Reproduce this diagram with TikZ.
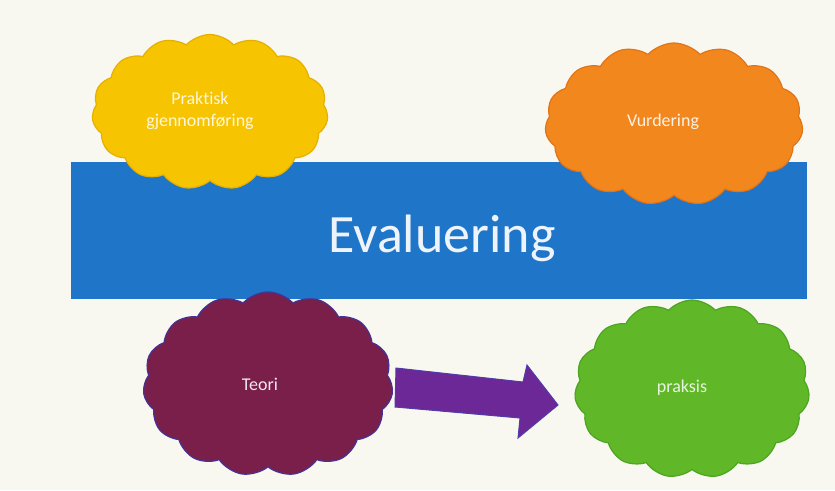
\documentclass[tikz,border=0pt]{standalone}
\usepackage{fontspec}
\setmainfont{Carlito}[Ligatures={NoCommon}]
\usetikzlibrary{shapes.symbols}
\definecolor{bg}{RGB}{248,248,241}
\definecolor{barblue}{RGB}{31,117,200}
\definecolor{cyellow}{RGB}{246,196,0}
\definecolor{cyellowb}{RGB}{230,176,0}
\definecolor{corange}{RGB}{242,135,30}
\definecolor{corangeb}{RGB}{226,116,22}
\definecolor{cpurple}{RGB}{122,30,74}
\definecolor{cpurpleb}{RGB}{70,50,150}
\definecolor{cgreen}{RGB}{96,184,40}
\definecolor{cgreenb}{RGB}{76,164,32}
\definecolor{carrow}{RGB}{108,40,150}
\definecolor{carrowb}{RGB}{80,60,170}
\begin{document}
\begin{tikzpicture}[x=1pt,y=-1pt,
  puff/.style={cloud, cloud puffs=15, cloud puff arc=95, inner sep=0pt, line width=1.2pt},
  ctext/.style={font=\fontsize{18}{22}\selectfont, align=center, inner sep=0pt}]
\useasboundingbox (0,0) rectangle (835,490);
\fill[bg] (0,0) rectangle (835,490);
% bar
\fill[barblue] (71,162) rectangle (807,299);
\node[font=\fontsize{54}{60}\selectfont, text=white!92!barblue, anchor=base, inner sep=0pt] (eval) at (442,252) {Evaluering};
% clouds
\node[puff, fill=cyellow, draw=cyellowb, minimum width=236pt, minimum height=155pt] (c1) at (210,112) {};
\node[ctext, text=white!85!cyellow] (t1) at (200,111) {Praktisk\\gjennomføring};
\node[puff, fill=corange, draw=corangeb, minimum width=258pt, minimum height=162pt] (c2) at (674,124) {};
\node[ctext, text=white!88!corange] (t2) at (663,122) {Vurdering};
\node[puff, fill=cpurple, draw=cpurpleb, minimum width=250pt, minimum height=184pt] (c3) at (268,384) {};
\node[ctext, text=white!90!cpurple] (t3) at (260,384) {Teori};
\node[puff, fill=cgreen, draw=cgreenb, minimum width=235pt, minimum height=178pt] (c4) at (692,389) {};
\node[ctext, text=white!85!cgreen] (t4) at (682,388) {praksis};
% arrow
\coordinate (a1) at (396,368);
\coordinate (a2) at (523,382);
\coordinate (a3) at (527,365);
\coordinate (a4) at (558,405);
\coordinate (a5) at (518,438);
\coordinate (a6) at (520,418);
\coordinate (a7) at (395,407);
\filldraw[fill=carrow, draw=carrowb, line width=1pt, line join=miter] (a1) -- (a2) -- (a3) -- (a4) -- (a5) -- (a6) -- (a7) -- cycle;
\end{tikzpicture}
\end{document}
